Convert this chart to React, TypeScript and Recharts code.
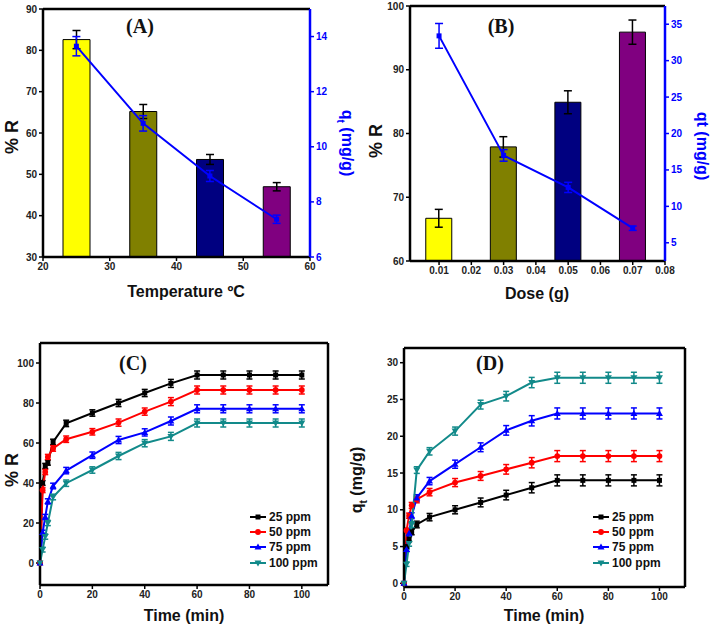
import React from "react";
import {
  Bar,
  Cell,
  ComposedChart,
  ErrorBar,
  Line,
  LineChart,
  ReferenceLine,
  XAxis,
  YAxis,
} from "recharts";

// (A) effect of temperature
const tempC = [25, 35, 45, 55];
const tempRemoval = [82.6, 65.2, 53.6, 47.0];
const tempRemovalErr = [2.2, 1.7, 1.2, 1.0];
const tempQ = [13.65, 10.85, 8.94, 7.37];
const tempQErr = [0.35, 0.28, 0.2, 0.15];

// (B) effect of dose
const doseG = [0.01, 0.03, 0.05, 0.07];
const doseRemoval = [66.7, 77.9, 84.9, 95.9];
const doseRemovalErr = [1.4, 1.6, 1.8, 1.9];
const doseQ = [33.4, 17.0, 12.6, 7.0];
const doseQErr = [1.7, 0.8, 0.7, 0.3];

// (C) / (D) contact time
const timeMin = [0, 1, 2, 3, 5, 10, 20, 30, 40, 50, 60, 70, 80, 90, 100];
const concLabels = ["25 ppm", "50 ppm", "75 ppm", "100 ppm"];

const removal25 = [0, 40, 48.5, 50.2, 60.5, 69.8, 75, 80, 85, 89.8, 94, 94, 94, 94, 94];
const removal50 = [0, 36.4, 45.5, 53, 57.3, 61.9, 65.6, 70.2, 75.7, 80.7, 86.5, 86.5, 86.5, 86.5, 86.5];
const removal75 = [0, 15.2, 23, 30.8, 38.5, 46.2, 53.9, 61.5, 65.3, 71, 77.1, 77.1, 77.1, 77.1, 77.1];
const removal100 = [0, 6.7, 13.2, 20, 33, 39.9, 46.5, 53.5, 59.9, 63.3, 70, 70, 70, 70, 70];
const removalErr = [0.5, 1.2, 1.3, 1.3, 1.4, 1.6, 1.6, 1.8, 1.8, 2, 2, 2, 2, 2, 2];

const qt25 = [0, 5, 6, 7, 8, 9, 10, 11, 12, 13, 14, 14, 14, 14, 14];
const qt50 = [0, 7.2, 9.2, 10.6, 11.4, 12.4, 13.7, 14.6, 15.5, 16.4, 17.3, 17.3, 17.3, 17.3, 17.3];
const qt75 = [0, 4.6, 6.8, 9.2, 11.6, 13.9, 16.2, 18.5, 20.8, 22.1, 23.1, 23.1, 23.1, 23.1, 23.1];
const qt100 = [0, 2.6, 5.4, 8, 15.4, 17.95, 20.7, 24.3, 25.45, 27.3, 27.95, 27.95, 27.95, 27.95, 27.95];
const qtErr = [0.2, 0.3, 0.35, 0.4, 0.45, 0.5, 0.55, 0.6, 0.65, 0.7, 0.75, 0.75, 0.75, 0.75, 0.75];

const barColors = ["#FFFF00", "#808000", "#000080", "#800080"];
const seriesColors = ["#000000", "#FF0000", "#0000FF", "#128A8A"];
const seriesShapes = ["square", "circle", "up", "down"];
const QBLUE = "#0000FF";

const tempRows = tempC.map((t, i) => ({
  x: t,
  r: tempRemoval[i],
  rErr: tempRemovalErr[i],
  q: tempQ[i],
  qErr: tempQErr[i],
}));

const doseRows = doseG.map((d, i) => ({
  x: d,
  r: doseRemoval[i],
  rErr: doseRemovalErr[i],
  q: doseQ[i],
  qErr: doseQErr[i],
}));

const removalRows = timeMin.map((t, i) => ({
  t,
  s0: removal25[i],
  s1: removal50[i],
  s2: removal75[i],
  s3: removal100[i],
  e: removalErr[i],
}));

const qtRows = timeMin.map((t, i) => ({
  t,
  s0: qt25[i],
  s1: qt50[i],
  s2: qt75[i],
  s3: qt100[i],
  e: qtErr[i],
}));

const tickFont = { fontSize: 10, fontWeight: 700, fill: "#222", fontFamily: "Liberation Sans" };
const blueTick = { ...tickFont, fill: QBLUE };
const frame = { stroke: "#000", strokeWidth: 2.5 };
const tickLn = { stroke: "#000", strokeWidth: 1.5 };

function Marker({ shape, color, cx, cy, size = 5 }: any) {
  const h = size / 2;
  if (cx == null || cy == null) return null;
  if (shape === "square")
    return <rect x={cx - h} y={cy - h} width={size} height={size} fill={color} />;
  if (shape === "circle") return <circle cx={cx} cy={cy} r={h + 0.4} fill={color} />;
  if (shape === "up")
    return (
      <polygon
        points={`${cx},${cy - h - 1} ${cx - h - 1},${cy + h} ${cx + h + 1},${cy + h}`}
        fill={color}
      />
    );
  return (
    <polygon
      points={`${cx},${cy + h + 1} ${cx - h - 1},${cy - h} ${cx + h + 1},${cy - h}`}
      fill={color}
    />
  );
}

function Caption({ x, y, angle = 0, size = 16, color = "#111", serif = false, children }: any) {
  return (
    <div
      style={{
        position: "absolute",
        left: x,
        top: y,
        transform: `translate(-50%, -50%) rotate(${angle}deg)`,
        whiteSpace: "nowrap",
        fontSize: size,
        fontWeight: 700,
        color,
        fontFamily: serif ? "Liberation Serif" : "Liberation Sans",
        lineHeight: 1,
      }}
    >
      {children}
    </div>
  );
}

function LegendBox({ x, y }: { x: number; y: number }) {
  return (
    <div style={{ position: "absolute", left: x, top: y, fontFamily: "Liberation Sans" }}>
      {concLabels.map((name, i) => (
        <div key={name} style={{ display: "flex", alignItems: "center", height: 15.3 }}>
          <svg width={17} height={10}>
            <line x1={0} y1={5} x2={16} y2={5} stroke={seriesColors[i]} strokeWidth={2} />
            <Marker shape={seriesShapes[i]} color={seriesColors[i]} cx={8} cy={5} />
          </svg>
          <span style={{ fontSize: 12, fontWeight: 700, color: "#111", marginLeft: 2 }}>{name}</span>
        </div>
      ))}
    </div>
  );
}

function BarPanel({ rows, xDomain, xTicks, yDomain, yTicks, qDomain, qTicks, barSize, margin, leftW, rightW, xH }: any) {
  return (
    <ComposedChart width={355} height={300} data={rows} margin={margin}>
      <XAxis
        dataKey="x"
        type="number"
        domain={xDomain}
        ticks={xTicks}
        height={xH}
        axisLine={frame}
        tickLine={tickLn}
        tickSize={4}
        tick={tickFont}
        interval={0}
      />
      <YAxis
        yAxisId="left"
        domain={yDomain}
        ticks={yTicks}
        width={leftW}
        axisLine={frame}
        tickLine={tickLn}
        tickSize={4}
        tick={tickFont}
        interval={0}
      />
      <YAxis
        yAxisId="right"
        orientation="right"
        domain={qDomain}
        ticks={qTicks}
        width={rightW}
        axisLine={{ stroke: QBLUE, strokeWidth: 2.5 }}
        tickLine={{ stroke: QBLUE, strokeWidth: 1.5 }}
        tickSize={4}
        tick={blueTick}
        interval={0}
      />
      <ReferenceLine yAxisId="left" y={yDomain[1]} stroke="#000" strokeWidth={2.5} />
      <Bar yAxisId="left" dataKey="r" barSize={barSize} stroke="#000" strokeWidth={1} isAnimationActive={false}>
        {rows.map((_: any, i: number) => (
          <Cell key={i} fill={barColors[i]} />
        ))}
        <ErrorBar dataKey="rErr" width={4} stroke="#000" strokeWidth={1.5} direction="y" />
      </Bar>
      <Line
        yAxisId="right"
        dataKey="q"
        stroke={QBLUE}
        strokeWidth={2}
        isAnimationActive={false}
        dot={(p: any) => <Marker key={p.index} shape="square" color={QBLUE} cx={p.cx} cy={p.cy} size={5} />}
      >
        <ErrorBar dataKey="qErr" width={4} stroke={QBLUE} strokeWidth={1.5} direction="y" />
      </Line>
    </ComposedChart>
  );
}

function KineticPanel({ rows, yDomain, yTicks, margin, leftW, xH }: any) {
  return (
    <LineChart width={355} height={306} data={rows} margin={margin}>
      <XAxis
        dataKey="t"
        type="number"
        domain={[0, 110]}
        ticks={[0, 20, 40, 60, 80, 100]}
        height={xH}
        axisLine={frame}
        tickLine={tickLn}
        tickSize={4}
        tick={tickFont}
        interval={0}
      />
      <YAxis
        domain={yDomain}
        ticks={yTicks}
        width={leftW}
        axisLine={frame}
        tickLine={tickLn}
        tickSize={4}
        tick={tickFont}
        interval={0}
      />
      <ReferenceLine y={yDomain[1]} stroke="#000" strokeWidth={2.5} />
      <ReferenceLine x={110} stroke="#000" strokeWidth={2.5} />
      {concLabels.map((name, i) => (
        <Line
          key={name}
          dataKey={`s${i}`}
          name={name}
          stroke={seriesColors[i]}
          strokeWidth={2}
          isAnimationActive={false}
          dot={(p: any) => (
            <Marker key={p.index} shape={seriesShapes[i]} color={seriesColors[i]} cx={p.cx} cy={p.cy} />
          )}
        >
          <ErrorBar dataKey="e" width={3} stroke={seriesColors[i]} strokeWidth={1.5} direction="y" />
        </Line>
      ))}
    </LineChart>
  );
}

export default function App() {
  return (
    <div
      style={{
        position: "absolute",
        left: 0,
        top: 0,
        width: 710,
        height: 626,
        background: "#fff",
        overflow: "hidden",
        fontFamily: "Liberation Sans",
      }}
    >
      <div style={{ position: "absolute", left: 0, top: 0 }}>
        <BarPanel
          rows={tempRows}
          xDomain={[20, 60]}
          xTicks={[20, 30, 40, 50, 60]}
          yDomain={[30, 90]}
          yTicks={[30, 40, 50, 60, 70, 80, 90]}
          qDomain={[6, 15]}
          qTicks={[6, 8, 10, 12, 14]}
          barSize={27}
          margin={{ top: 9, right: 0, left: 0, bottom: 0 }}
          leftW={43}
          rightW={45}
          xH={43}
        />
      </div>
      <div style={{ position: "absolute", left: 355, top: 0 }}>
        <BarPanel
          rows={doseRows}
          xDomain={[0.001, 0.08]}
          xTicks={[0.01, 0.02, 0.03, 0.04, 0.05, 0.06, 0.07, 0.08]}
          yDomain={[60, 100]}
          yTicks={[60, 70, 80, 90, 100]}
          qDomain={[2.5, 37.5]}
          qTicks={[5, 10, 15, 20, 25, 30, 35]}
          barSize={26}
          margin={{ top: 6, right: 0, left: 0, bottom: 0 }}
          leftW={55}
          rightW={45}
          xH={39}
        />
      </div>
      <div style={{ position: "absolute", left: 0, top: 320 }}>
        <KineticPanel
          rows={removalRows}
          yDomain={[-11, 110]}
          yTicks={[0, 20, 40, 60, 80, 100]}
          margin={{ top: 23, right: 27, left: 0, bottom: 0 }}
          leftW={40}
          xH={41}
        />
      </div>
      <div style={{ position: "absolute", left: 355, top: 320 }}>
        <KineticPanel
          rows={qtRows}
          yDomain={[-0.5, 32]}
          yTicks={[0, 5, 10, 15, 20, 25, 30]}
          margin={{ top: 28, right: 25, left: 0, bottom: 0 }}
          leftW={49}
          xH={39}
        />
      </div>

      <Caption x={140} y={26} size={20} serif>(A)</Caption>
      <Caption x={12} y={137} angle={-90} size={18}>% R</Caption>
      <Caption x={186} y={292} size={16}>Temperature ºC</Caption>
      <Caption x={345} y={143} angle={90} size={16} color={QBLUE}>
        q<sub style={{ fontSize: 10 }}>t</sub> (mg/g)
      </Caption>

      <Caption x={501} y={26} size={20} serif>(B)</Caption>
      <Caption x={376} y={141} angle={-90} size={18}>% R</Caption>
      <Caption x={537} y={294} size={16}>Dose (g)</Caption>
      <Caption x={702} y={146} angle={90} size={16} color={QBLUE}>qt (mg/g)</Caption>

      <Caption x={133} y={363} size={20} serif>(C)</Caption>
      <Caption x={12} y={470} angle={-90} size={18}>% R</Caption>
      <Caption x={184} y={616} size={16}>Time (min)</Caption>
      <LegendBox x={250} y={509} />

      <Caption x={490} y={363} size={20} serif>(D)</Caption>
      <Caption x={359} y={480} angle={-90} size={16}>
        q<sub style={{ fontSize: 10 }}>t</sub> (mg/g)
      </Caption>
      <Caption x={544} y={616} size={16}>Time (min)</Caption>
      <LegendBox x={593} y={509} />
    </div>
  );
}
